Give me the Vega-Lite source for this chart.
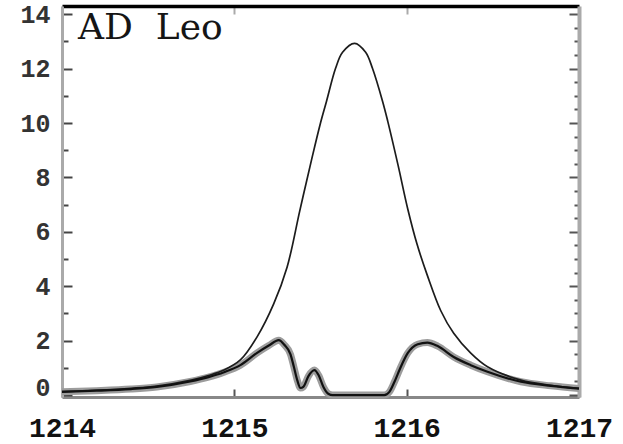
{
  "$schema": "https://vega.github.io/schema/vega-lite/v6.json",
  "width": 517,
  "height": 391,
  "autosize": {"type": "none"},
  "padding": {"left": 62, "top": 6, "right": 44, "bottom": 47},
  "background": "white",
  "config": {"view": {"stroke": null}, "axis": {"grid": false, "title": null}},
  "datasets": {
    "intrinsic": [
      {"wavelength": 1214.0, "flux": 0.13},
      {"wavelength": 1214.2, "flux": 0.18},
      {"wavelength": 1214.4, "flux": 0.25},
      {"wavelength": 1214.55, "flux": 0.33},
      {"wavelength": 1214.75, "flux": 0.55},
      {"wavelength": 1214.85, "flux": 0.72},
      {"wavelength": 1214.94, "flux": 0.92},
      {"wavelength": 1215.035, "flux": 1.29},
      {"wavelength": 1215.132, "flux": 2.14},
      {"wavelength": 1215.229, "flux": 3.36},
      {"wavelength": 1215.306, "flux": 4.7},
      {"wavelength": 1215.38, "flux": 6.78},
      {"wavelength": 1215.45, "flux": 8.7},
      {"wavelength": 1215.5, "flux": 10.0},
      {"wavelength": 1215.535, "flux": 10.8},
      {"wavelength": 1215.587, "flux": 12.0},
      {"wavelength": 1215.628, "flux": 12.6},
      {"wavelength": 1215.698, "flux": 12.93},
      {"wavelength": 1215.762, "flux": 12.6},
      {"wavelength": 1215.802, "flux": 12.0},
      {"wavelength": 1215.86, "flux": 10.8},
      {"wavelength": 1215.89, "flux": 10.07},
      {"wavelength": 1215.95, "flux": 8.45},
      {"wavelength": 1216.006, "flux": 6.85},
      {"wavelength": 1216.06, "flux": 5.55},
      {"wavelength": 1216.12, "flux": 4.4},
      {"wavelength": 1216.198, "flux": 3.1},
      {"wavelength": 1216.273, "flux": 2.27},
      {"wavelength": 1216.372, "flux": 1.54},
      {"wavelength": 1216.469, "flux": 1.04},
      {"wavelength": 1216.663, "flux": 0.55},
      {"wavelength": 1216.837, "flux": 0.36},
      {"wavelength": 1217.0, "flux": 0.25}
    ],
    "attenuated": [
      {"wavelength": 1214.0, "flux": 0.12},
      {"wavelength": 1214.2, "flux": 0.16},
      {"wavelength": 1214.4, "flux": 0.22},
      {"wavelength": 1214.55, "flux": 0.3},
      {"wavelength": 1214.744, "flux": 0.5},
      {"wavelength": 1214.85, "flux": 0.66},
      {"wavelength": 1214.94, "flux": 0.84},
      {"wavelength": 1215.035, "flux": 1.1},
      {"wavelength": 1215.13, "flux": 1.54},
      {"wavelength": 1215.2, "flux": 1.82},
      {"wavelength": 1215.258, "flux": 2.02},
      {"wavelength": 1215.29, "flux": 1.85},
      {"wavelength": 1215.326, "flux": 1.5},
      {"wavelength": 1215.345, "flux": 1.05},
      {"wavelength": 1215.365, "flux": 0.55},
      {"wavelength": 1215.384, "flux": 0.26},
      {"wavelength": 1215.4, "flux": 0.3},
      {"wavelength": 1215.43, "flux": 0.7},
      {"wavelength": 1215.465, "flux": 0.92},
      {"wavelength": 1215.49, "flux": 0.72},
      {"wavelength": 1215.517, "flux": 0.3},
      {"wavelength": 1215.545, "flux": 0.05},
      {"wavelength": 1215.57, "flux": 0.0},
      {"wavelength": 1215.87, "flux": 0.0},
      {"wavelength": 1215.9, "flux": 0.12},
      {"wavelength": 1215.93, "flux": 0.5},
      {"wavelength": 1215.96, "flux": 0.95},
      {"wavelength": 1216.006, "flux": 1.54},
      {"wavelength": 1216.064, "flux": 1.87},
      {"wavelength": 1216.12, "flux": 1.93},
      {"wavelength": 1216.18, "flux": 1.8},
      {"wavelength": 1216.273, "flux": 1.4},
      {"wavelength": 1216.372, "flux": 1.1},
      {"wavelength": 1216.469, "flux": 0.86},
      {"wavelength": 1216.663, "flux": 0.49},
      {"wavelength": 1216.837, "flux": 0.34},
      {"wavelength": 1217.0, "flux": 0.24}
    ],
    "star": [
      {"wavelength": 1214.093, "flux": 13.07, "name": "AD\u00a0\u00a0Leo"}
    ]
  },
  "layer": [
    {
      "data": {"name": "attenuated"},
      "mark": {"type": "line", "color": "#9c9c9c", "strokeWidth": 7, "interpolate": "monotone"},
      "encoding": {
        "x": {
          "field": "wavelength", "type": "quantitative",
          "scale": {"domain": [1214, 1217], "nice": false, "zero": false},
          "axis": {
            "orient": "bottom", "values": [1214, 1215, 1216, 1217], "format": "d",
            "tickSize": -8, "tickWidth": 2, "tickColor": "#555555",
            "domainColor": "#888888", "domainWidth": 3,
            "labelFont": "Liberation Mono", "labelFontSize": 28, "labelFontWeight": "bold",
            "labelColor": "#111111", "labelPadding": 25, "labelFlush": false
          }
        },
        "y": {
          "field": "flux", "type": "quantitative",
          "scale": {"domain": [-0.07, 14.3], "nice": false, "zero": false},
          "axis": {
            "orient": "left",
            "values": [0, 0.5, 1, 1.5, 2, 2.5, 3, 3.5, 4, 4.5, 5, 5.5, 6, 6.5, 7, 7.5, 8, 8.5, 9, 9.5, 10, 10.5, 11, 11.5, 12, 12.5, 13, 13.5, 14],
            "format": "d",
            "labelExpr": "datum.value % 2 === 0 ? datum.label : ''",
            "tickSize": {"condition": {"test": "datum.value % 2 === 0", "value": -10}, "value": -6},
            "tickWidth": 2, "tickColor": "#444444",
            "domainColor": "#aaaaaa", "domainWidth": 3,
            "labelFont": "Liberation Mono", "labelFontSize": 25, "labelFontWeight": "bold",
            "labelColor": "#333333", "labelPadding": 22,
            "labelOffset": {"condition": {"test": "datum.value === 0", "value": -8}, "value": 0}
          }
        }
      }
    },
    {
      "data": {"name": "intrinsic"},
      "mark": {"type": "line", "color": "#1c1c1c", "strokeWidth": 1.7, "interpolate": "catmull-rom"},
      "encoding": {
        "x": {
          "field": "wavelength", "type": "quantitative",
          "axis": {
            "orient": "top", "values": [1215, 1216], "labels": false,
            "tickSize": -8, "tickWidth": 2, "tickColor": "#aaaaaa",
            "domainColor": "#000000", "domainWidth": 3.5
          }
        },
        "y": {
          "field": "flux", "type": "quantitative",
          "axis": {
            "orient": "right",
            "values": [0, 0.5, 1, 1.5, 2, 2.5, 3, 3.5, 4, 4.5, 5, 5.5, 6, 6.5, 7, 7.5, 8, 8.5, 9, 9.5, 10, 10.5, 11, 11.5, 12, 12.5, 13, 13.5, 14],
            "labels": false,
            "tickSize": {"condition": {"test": "datum.value % 2 === 0", "value": -10}, "value": -5},
            "tickWidth": 2, "tickColor": "#555555",
            "domainColor": "#aaaaaa", "domainWidth": 4
          }
        }
      }
    },
    {
      "data": {"name": "attenuated"},
      "mark": {"type": "line", "color": "#111111", "strokeWidth": 2.2, "interpolate": "monotone"},
      "encoding": {
        "x": {"field": "wavelength", "type": "quantitative", "axis": null},
        "y": {"field": "flux", "type": "quantitative", "axis": null}
      }
    },
    {
      "data": {"name": "star"},
      "mark": {"type": "text", "align": "left", "baseline": "alphabetic", "font": "DejaVu Serif", "fontSize": 36, "color": "#151515"},
      "encoding": {
        "x": {"field": "wavelength", "type": "quantitative", "axis": null},
        "y": {"field": "flux", "type": "quantitative", "axis": null},
        "text": {"field": "name"}
      }
    }
  ],
  "resolve": {"axis": {"x": "independent", "y": "independent"}}
}
